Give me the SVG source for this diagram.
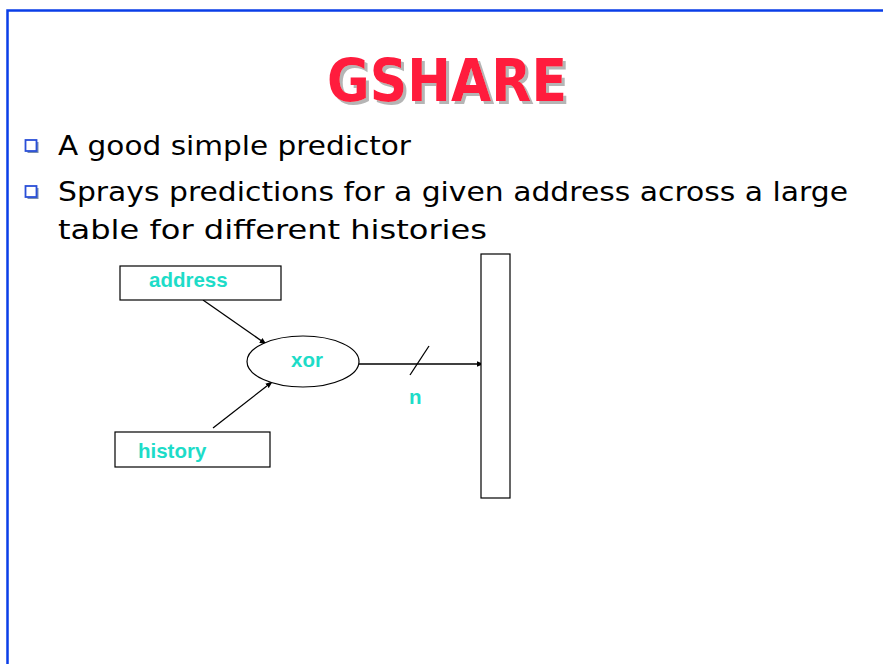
<svg xmlns="http://www.w3.org/2000/svg" width="883" height="664" viewBox="0 0 883 664">
  <style>
    .frame { stroke: #0a3ee8; stroke-width: 2.5; fill: none; }
    .title { font-family: "Comic Sans MS", "DejaVu Sans", sans-serif; font-weight: bold; font-size: 58px; fill: #ff1a3c; }
    .body { font-family: "Comic Sans MS", "DejaVu Sans", sans-serif; font-size: 27px; fill: #000; }
    .label { font-family: "Liberation Sans", Arial, sans-serif; font-weight: bold; font-size: 20.5px; fill: #1ddcc8; }
    .box { fill: #fff; stroke: #000; stroke-width: 1.2; }
    .wire { stroke: #000; stroke-width: 1.3; fill: none; }
  </style>
  <defs>
    <marker id="arrow" viewBox="0 0 10 10" refX="9" refY="5" markerWidth="7" markerHeight="7" orient="auto" markerUnits="userSpaceOnUse">
      <path d="M0,1 L10,5 L0,9 z" fill="#000"/>
    </marker>
    <filter id="shadow" x="-5%" y="-10%" width="115%" height="130%">
      <feDropShadow dx="3" dy="3" stdDeviation="0.4" flood-color="#b5b5b5" flood-opacity="1"/>
    </filter>
  </defs>

  <rect width="883" height="664" fill="#fff"/>
  <!-- slide frame -->
  <path class="frame" d="M7.5,664 L7.5,10.5 L883,10.5"/>

  <!-- title with drop shadow -->
  <text class="title" x="447" y="101" text-anchor="middle" textLength="240" lengthAdjust="spacingAndGlyphs" filter="url(#shadow)">GSHARE</text>

  <!-- bullets -->
  <g id="bullets">
    <rect x="27.5" y="142" width="11" height="11" fill="#7a8fb0"/>
    <rect x="25.5" y="140" width="11" height="11" fill="#fff" stroke="#2a4fd8" stroke-width="1.8"/>
    <rect x="27.5" y="188" width="11" height="11" fill="#7a8fb0"/>
    <rect x="25.5" y="186" width="11" height="11" fill="#fff" stroke="#2a4fd8" stroke-width="1.8"/>
    <text class="body" x="58" y="155" textLength="353" lengthAdjust="spacingAndGlyphs">A good simple predictor</text>
    <text class="body" x="58" y="201" textLength="790" lengthAdjust="spacingAndGlyphs">Sprays predictions for a given address across a large</text>
    <text class="body" x="58" y="239" textLength="429" lengthAdjust="spacingAndGlyphs">table for different histories</text>
  </g>

  <!-- connectors -->
  <g id="connectors">
    <line class="wire" x1="203" y1="300" x2="266" y2="344" marker-end="url(#arrow)"/>
    <line class="wire" x1="213" y1="428" x2="272" y2="382" marker-end="url(#arrow)"/>
    <line class="wire" x1="359" y1="364" x2="483" y2="364" marker-end="url(#arrow)"/>
    <line class="wire" x1="410" y1="375" x2="429" y2="346"/>
    <text class="label" x="409" y="404">n</text>
  </g>

  <g id="address">
    <rect class="box" x="120" y="266" width="161" height="34"/>
    <text class="label" x="149" y="287">address</text>
  </g>

  <g id="history">
    <rect class="box" x="115" y="432" width="155" height="35"/>
    <text class="label" x="138" y="458">history</text>
  </g>

  <g id="xor">
    <ellipse class="box" cx="303" cy="361.5" rx="56" ry="25.5"/>
    <text class="label" x="307" y="367" text-anchor="middle">xor</text>
  </g>

  <g id="table">
    <rect class="box" x="481" y="254" width="29" height="244"/>
  </g>
</svg>
